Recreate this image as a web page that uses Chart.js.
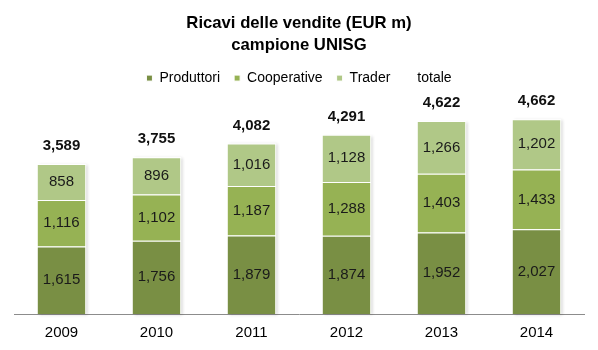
<!DOCTYPE html>
<html>
<head>
<meta charset="utf-8">
<script src="https://cdn.jsdelivr.net/npm/chart.js@4/dist/chart.umd.min.js"></script>
<style>
  html, body { margin: 0; padding: 0; background: #ffffff; }
  #wrap { width: 598px; height: 350px; position: relative; }
</style>
</head>
<body>
<div id="wrap"><canvas id="c" width="598" height="350"></canvas></div>
<script>
const anni = ['2009', '2010', '2011', '2012', '2013', '2014'];
const produttori = [1615, 1756, 1879, 1874, 1952, 2027];
const cooperative = [1116, 1102, 1187, 1288, 1403, 1433];
const trader = [858, 896, 1016, 1128, 1266, 1202];
const totale = [3589, 3755, 4082, 4291, 4622, 4662];

const fmt = v => v.toLocaleString('en-US');
const FONT = '"Liberation Sans", Arial, sans-serif';

// Soft shadow behind each stacked column
const ombra = {
  id: 'ombra',
  beforeDatasetsDraw(chart) {
    const ctx = chart.ctx;
    const basso = chart.getDatasetMeta(0).data;
    const alto = chart.getDatasetMeta(2).data;
    ctx.save();
    ctx.shadowColor = 'rgba(0,0,0,0.16)';
    ctx.shadowBlur = 3;
    ctx.shadowOffsetX = 2;
    ctx.shadowOffsetY = 1;
    ctx.fillStyle = '#ffffff';
    basso.forEach((b, j) => {
      const t = alto[j];
      ctx.fillRect(b.x - b.width / 2, t.y, b.width, b.base - t.y);
    });
    ctx.restore();
  }
};

// Writes each segment's value in its middle and the total above each bar
const etichette = {
  id: 'etichette',
  afterDatasetsDraw(chart) {
    const ctx = chart.ctx;
    ctx.save();
    ctx.textAlign = 'center';
    ctx.textBaseline = 'middle';
    chart.data.datasets.forEach((ds, i) => {
      const meta = chart.getDatasetMeta(i);
      if (ds.type === 'line') {
        ctx.font = 'bold 15px ' + FONT;
        ctx.fillStyle = '#111111';
        meta.data.forEach((pt, j) => {
          const top = chart.getDatasetMeta(2).data[j].y;
          ctx.fillText(fmt(ds.data[j]), pt.x, top - 18);
        });
      } else {
        ctx.font = '15px ' + FONT;
        ctx.fillStyle = '#1a1a1a';
        meta.data.forEach((bar, j) => {
          ctx.fillText(fmt(ds.data[j]), bar.x, (bar.y + bar.base) / 2);
        });
      }
    });
    ctx.restore();
  }
};

new Chart(document.getElementById('c'), {
  type: 'bar',
  data: {
    labels: anni,
    datasets: [
      { label: 'Produttori', data: produttori, backgroundColor: '#798f44', borderColor: '#ffffff', borderWidth: 1, stack: 's' },
      { label: 'Cooperative', data: cooperative, backgroundColor: '#96b254', borderColor: '#ffffff', borderWidth: 1, stack: 's' },
      { label: 'Trader', data: trader, backgroundColor: '#b0c887', borderColor: '#ffffff', borderWidth: 1, stack: 's' },
      { type: 'line', label: 'totale', data: totale, showLine: false, pointRadius: 0,
        backgroundColor: 'rgba(0,0,0,0)', borderColor: 'rgba(0,0,0,0)', stack: 't' }
    ]
  },
  options: {
    responsive: false,
    animation: false,
    layout: { padding: { left: 14, right: 14, top: 8, bottom: -1 } },
    datasets: { bar: { barPercentage: 0.52, categoryPercentage: 1.0 } },
    plugins: {
      title: {
        display: true,
        text: ['Ricavi delle vendite (EUR m)', 'campione UNISG'],
        font: { family: FONT, size: 16.7, weight: 'bold', lineHeight: 1.32 },
        color: '#000000',
        padding: { top: 4, bottom: 1 }
      },
      legend: {
        display: true,
        labels: {
          font: { family: FONT, size: 14 },
          color: '#000000',
          boxWidth: 6,
          boxHeight: 6,
          padding: 14
        }
      },
      tooltip: { enabled: false }
    },
    scales: {
      x: {
        stacked: true,
        grid: { display: false, drawTicks: false },
        border: { display: true, color: '#8c8c8c', width: 1 },
        ticks: { font: { family: FONT, size: 15, lineHeight: 1.0 }, color: '#000000', padding: 11 }
      },
      y: {
        stacked: true,
        display: false,
        min: 0,
        max: 5240
      }
    }
  },
  plugins: [ombra, etichette]
});
</script>
</body>
</html>
